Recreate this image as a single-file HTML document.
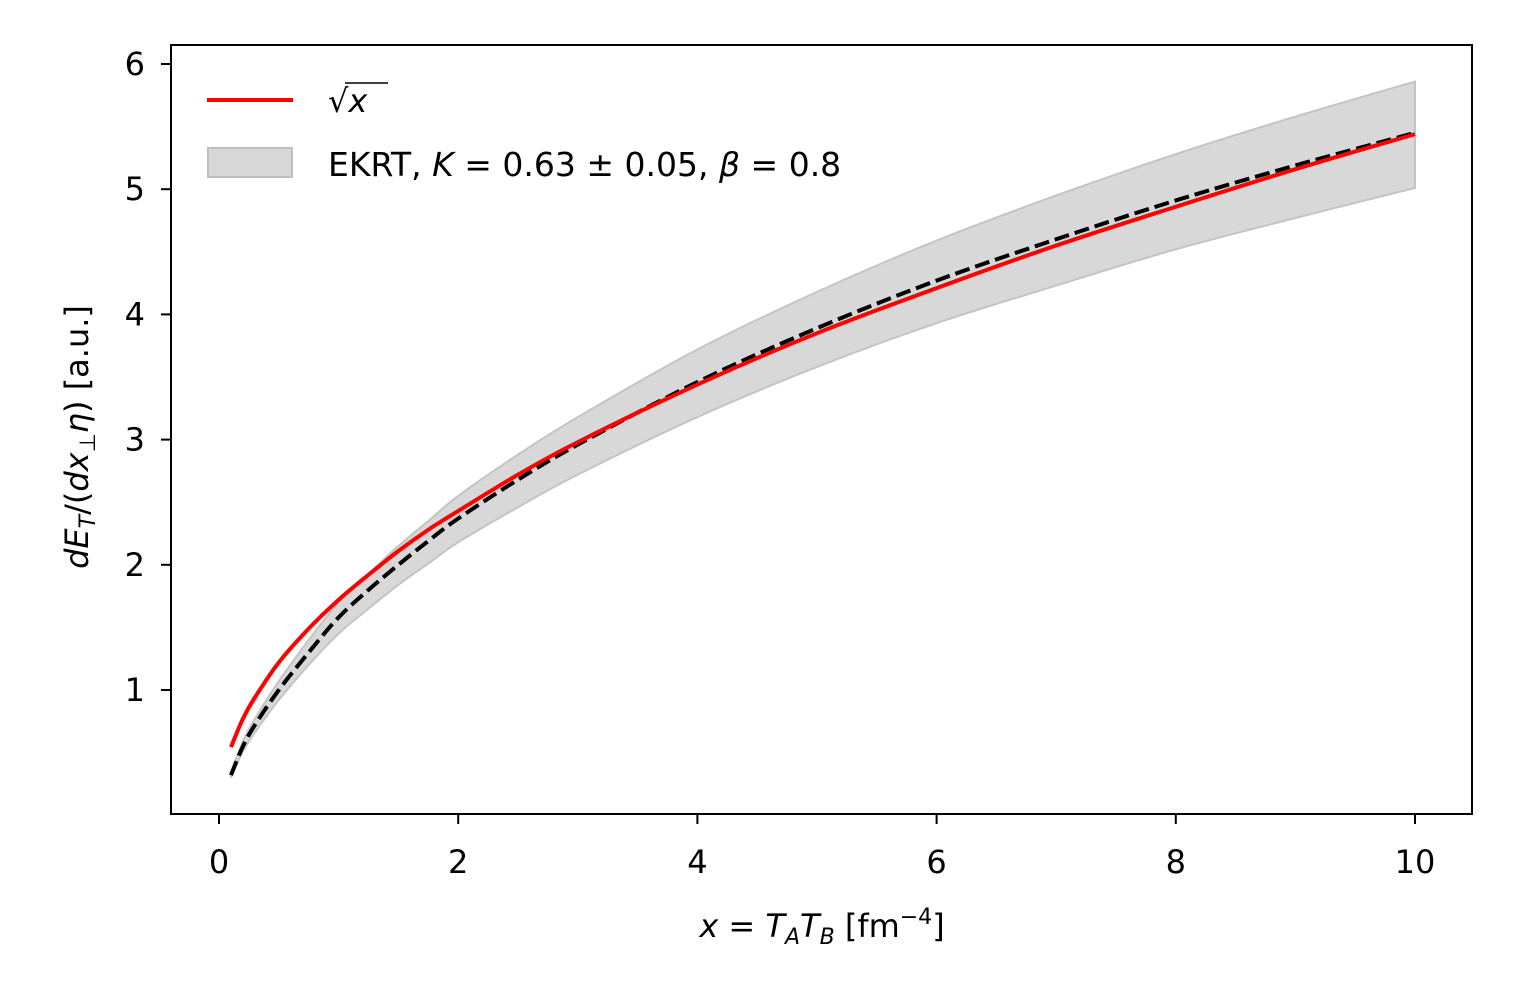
<!DOCTYPE html>
<html><head><meta charset="utf-8"><style>
body{margin:0;background:#fff;}
svg{display:block;font-family:"DejaVu Sans","Liberation Sans",sans-serif;}
</style></head><body>
<svg id="chart" width="1517" height="1008" xmlns="http://www.w3.org/2000/svg">
<rect x="0" y="0" width="1517" height="1008" fill="#fff"/>
<g id="plot"></g>
<rect x="171" y="45" width="1301" height="769" fill="none" stroke="#000" stroke-width="2"/>
<g id="ticks" font-size="32" fill="#000"></g>
<text x="822" y="937" font-size="32" text-anchor="middle"><tspan font-style="italic">x</tspan> = <tspan font-style="italic">T</tspan><tspan font-style="italic" font-size="22" dy="7">A</tspan><tspan font-style="italic" dy="-7">T</tspan><tspan font-style="italic" font-size="22" dy="7">B</tspan><tspan dy="-7"> [fm</tspan><tspan font-size="22" dy="-13">−4</tspan><tspan dy="13">]</tspan></text>
<text transform="translate(88,437) rotate(-90)" font-size="32" text-anchor="middle"><tspan font-style="italic">dE</tspan><tspan font-style="italic" font-size="22" dy="7">T</tspan><tspan dy="-7">/(</tspan><tspan font-style="italic">dx</tspan><tspan font-size="22" dy="7">⊥</tspan><tspan font-style="italic" dy="-7">η</tspan>) [a.u.]</text>
<g>
<line x1="207" y1="100" x2="293" y2="100" stroke="#f00" stroke-width="4"/>
<text x="328" y="112" font-size="32">√<tspan font-style="italic">x</tspan></text>
<line x1="345" y1="83" x2="388" y2="83" stroke="#000" stroke-width="1.5"/>
<rect x="208" y="148" width="84" height="29" fill="#d8d8d8" stroke="#bfbfbf" stroke-width="2"/>
<text x="328" y="176" font-size="33">EKRT, <tspan font-style="italic">K</tspan> = 0.63 ± 0.05, <tspan font-style="italic">β</tspan> = 0.8</text>
</g>
</svg>
<script>
const xs = [0.1,0.2,0.3,0.5,0.75,1,1.25,1.5,1.75,2,2.5,3,4,5,6,7,8,9,10];
const redVals = [0.544,0.77,0.94,1.22,1.49,1.72,1.92,2.11,2.28,2.43,2.72,2.98,3.44,3.85,4.21,4.55,4.86,5.16,5.44];
const ekrtVals = [0.32,0.55,0.72,1.0,1.3,1.58,1.80,2.0,2.19,2.37,2.68,2.96,3.46,3.89,4.27,4.6,4.91,5.19,5.45];
const upperVals = [0.34,0.59,0.77,1.07,1.4,1.7,1.93,2.15,2.35,2.55,2.88,3.18,3.72,4.18,4.59,4.95,5.28,5.58,5.86];
const lowerVals = [0.30,0.51,0.66,0.92,1.2,1.45,1.65,1.84,2.01,2.18,2.46,2.72,3.18,3.58,3.93,4.23,4.52,4.77,5.01];
const xTicks = [0,2,4,6,8,10];
const yTicks = [1,2,3,4,5,6];

const X = v => 219 + v*119.6;
const Y = v => 690 - (v-1)*125.2;
const NS = "http://www.w3.org/2000/svg";
function pts(vals){return xs.map((x,i)=>[X(x),Y(vals[i])]);}
function smooth(p, move){
  let d = (move?"M":"L")+p[0][0].toFixed(2)+","+p[0][1].toFixed(2);
  for(let i=0;i<p.length-1;i++){
    const p0=p[i-1]||p[i], p1=p[i], p2=p[i+1], p3=p[i+2]||p[i+1];
    const c1=[p1[0]+(p2[0]-p0[0])/6, p1[1]+(p2[1]-p0[1])/6];
    const c2=[p2[0]-(p3[0]-p1[0])/6, p2[1]-(p3[1]-p1[1])/6];
    d+=`C${c1[0].toFixed(2)},${c1[1].toFixed(2)} ${c2[0].toFixed(2)},${c2[1].toFixed(2)} ${p2[0].toFixed(2)},${p2[1].toFixed(2)}`;
  }
  return d;
}
const plot=document.getElementById('plot');
const band=document.createElementNS(NS,'path');


band.setAttribute('d', smooth(pts(upperVals),true)+smooth(pts(lowerVals).reverse(),false).replace(/^M/,'L')+'Z');
band.setAttribute('fill','#d8d8d8');band.setAttribute('stroke','#c4c4c4');band.setAttribute('stroke-width','2');
plot.appendChild(band);
const dash=document.createElementNS(NS,'path');


dash.setAttribute('d', smooth(pts(ekrtVals),true));
dash.setAttribute('fill','none');dash.setAttribute('stroke','#000');dash.setAttribute('stroke-width','4');dash.setAttribute('stroke-dasharray','15 6');
plot.appendChild(dash);
const red=document.createElementNS(NS,'path');


red.setAttribute('d', smooth(pts(redVals),true));
red.setAttribute('fill','none');red.setAttribute('stroke','#f00');red.setAttribute('stroke-width','4');
plot.appendChild(red);

const tk=document.getElementById('ticks');
xTicks.forEach(v=>{
  const l=document.createElementNS(NS,'line');
  
  
  l.setAttribute('x1',X(v));l.setAttribute('x2',X(v));l.setAttribute('y1',814);l.setAttribute('y2',824);l.setAttribute('stroke','#000');l.setAttribute('stroke-width','2');
  tk.appendChild(l);
  const t=document.createElementNS(NS,'text');
  
  
  t.setAttribute('x',X(v));t.setAttribute('y',873);t.setAttribute('text-anchor','middle');t.textContent=v;
  tk.appendChild(t);
});
yTicks.forEach(v=>{
  const l=document.createElementNS(NS,'line');
  
  
  l.setAttribute('x1',161);l.setAttribute('x2',171);l.setAttribute('y1',Y(v));l.setAttribute('y2',Y(v));l.setAttribute('stroke','#000');l.setAttribute('stroke-width','2');
  tk.appendChild(l);
  const t=document.createElementNS(NS,'text');
  
  
  t.setAttribute('x',145);t.setAttribute('y',Y(v)+11);t.setAttribute('text-anchor','end');t.textContent=v;
  tk.appendChild(t);
});
</script>
</body></html>
